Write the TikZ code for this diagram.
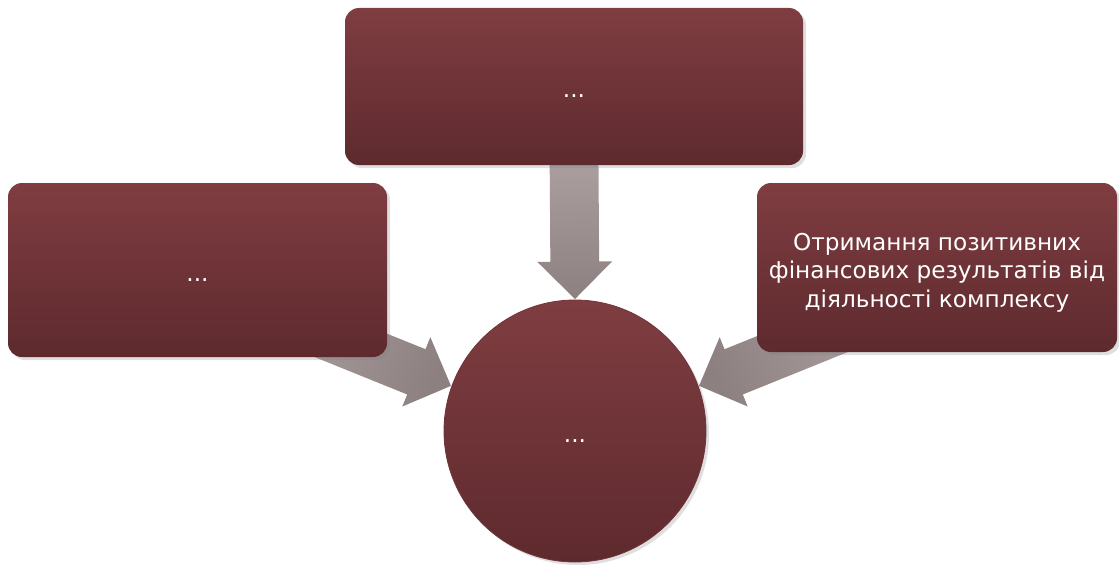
\documentclass[tikz,border=0pt]{standalone}
\usepackage{fontspec}
\setmainfont{DejaVu Sans}
\usetikzlibrary{calc,shapes.arrows,shadows,backgrounds}

\definecolor{boxtop}{RGB}{127,61,65}
\definecolor{boxbottom}{RGB}{94,42,46}
\definecolor{arrowlight}{RGB}{172,160,161}
\definecolor{arrowdark}{RGB}{140,128,129}

\tikzset{
  block/.style={rectangle, rounded corners=7pt, top color=boxtop, bottom color=boxbottom,
    drop shadow={opacity=0.25, shadow xshift=1.5pt, shadow yshift=-1.5pt}},
  boxtext/.style={text=white, font=\fontsize{11.6}{14.2}\selectfont, align=center, yshift=-2.5pt},
  dotstext/.style={boxtext, yshift=-2.5pt},
  goalcircle/.style={circle, minimum size=131pt, inner sep=0pt, top color=boxtop,
    bottom color=boxbottom, draw=boxtop!55!boxbottom, line width=0.4pt,
    drop shadow={opacity=0.25, shadow xshift=1.5pt, shadow yshift=-1.5pt}},
  flowarrow/.style={single arrow, single arrow head extend=6.5pt, single arrow tip angle=90,
    inner xsep=0pt, inner ysep=12pt, anchor=tip, top color=arrowlight, bottom color=arrowdark}
}

\newcommand\flowarrow[2]{%
  \path let \p1=(#1), \p2=(#2), \n1={veclen(\x2-\x1,\y2-\y1)}, \n2={atan2(\y2-\y1,\x2-\x1)} in
    node[flowarrow, minimum height=\n1, rotate=\n2, shading angle=\n2+90] at (\p2) {};}

\begin{document}
\begin{tikzpicture}[x=0.5pt, y=0.5pt]
  \useasboundingbox (0,0) rectangle (1119,564);
  % Goal in the middle
  \node[goalcircle, label={[dotstext]center:...}] (goal) at (575,133) {};
  % Three blocks around it
  \node[block, minimum width=229pt, minimum height=78.5pt,
    label={[dotstext]center:...}] (top) at (574,477.5) {};
  \node[block, minimum width=189.5pt, minimum height=87pt,
    label={[dotstext]center:...}] (left) at (197.5,294) {};
  \node[block, minimum width=180pt, minimum height=84.5pt,
    label={[boxtext]center:{Отримання позитивних\\фінансових результатів від\\діяльності комплексу}}]
    (right) at (937,296.5) {};
  % Tails of the arrows, hidden under the blocks
  \coordinate (ttail) at ($(top.south)+(0,12)$);
  \coordinate (ltail) at ($(goal.160)+(158:200)$);
  \coordinate (rtail) at ($(goal.20)+(22:200)$);
  % Block arrows into the goal
  \begin{scope}[on background layer]
    \flowarrow{ttail}{goal.north}
    \flowarrow{ltail}{goal.160}
    \flowarrow{rtail}{goal.20}
  \end{scope}
\end{tikzpicture}
\end{document}
